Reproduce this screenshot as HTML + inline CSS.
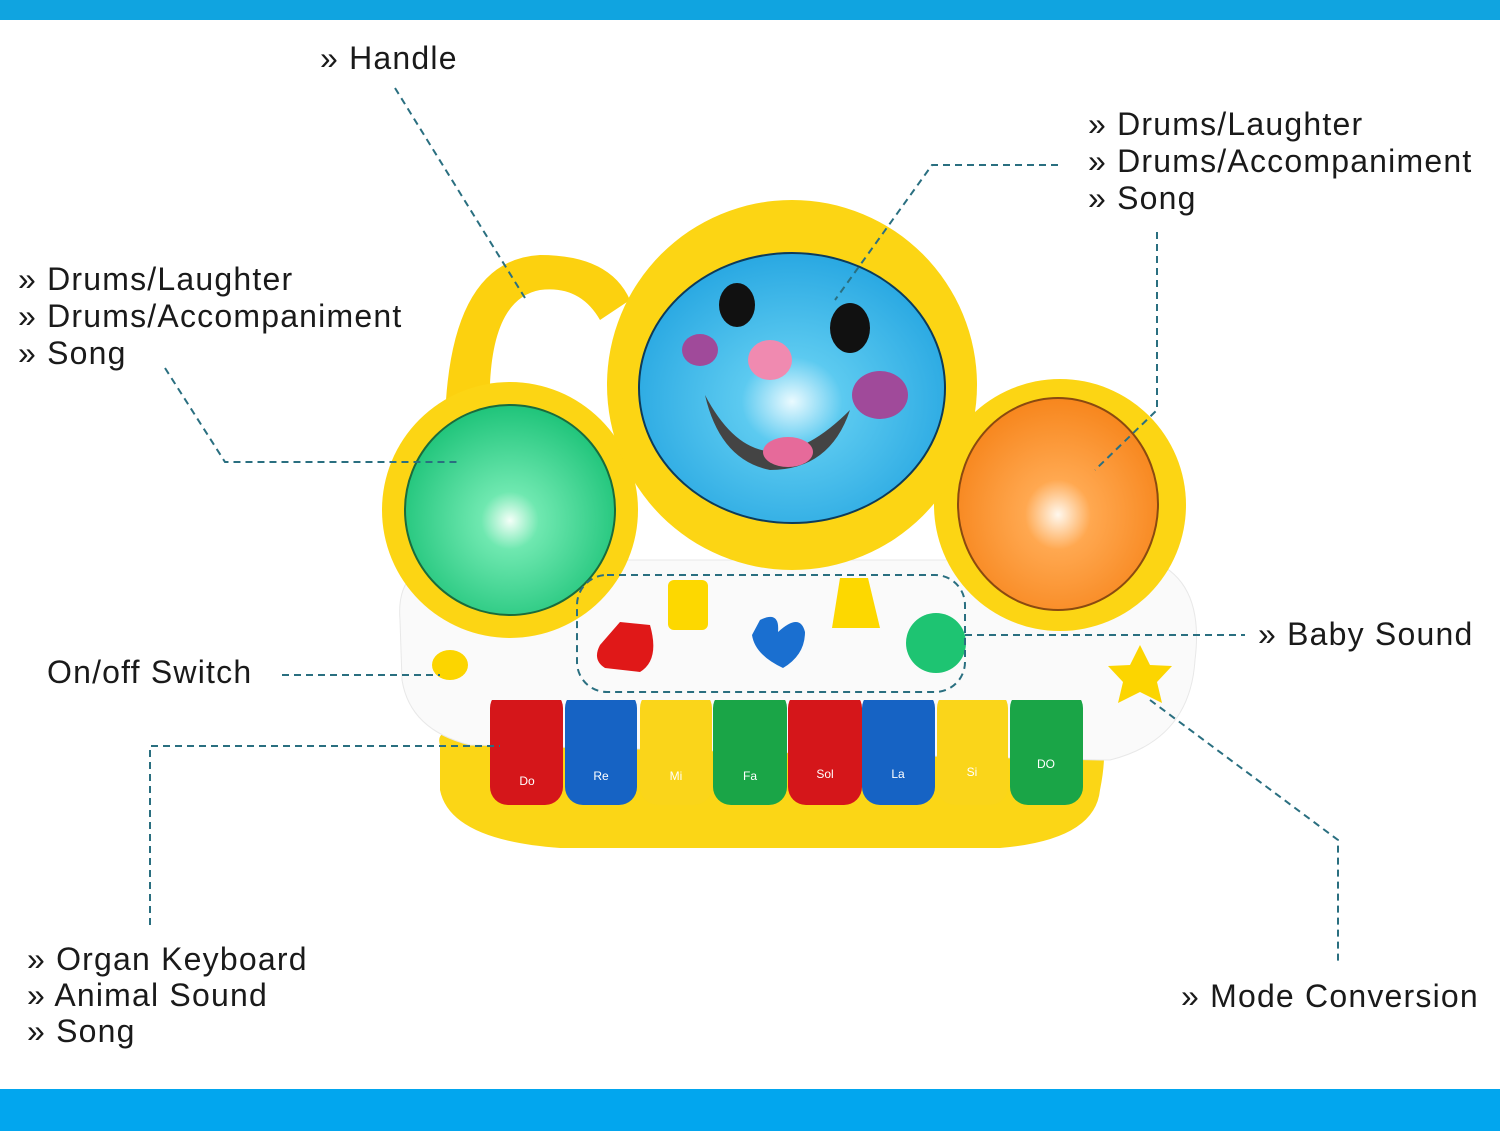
<!DOCTYPE html>
<html><head><meta charset="utf-8"><style>
html,body{margin:0;padding:0;background:#fff}
body{width:1500px;height:1131px;overflow:hidden;position:relative;font-family:"Liberation Sans",sans-serif}
.t{position:absolute;font-size:32px;color:#1a1a1a;line-height:37px;white-space:nowrap;letter-spacing:1.2px}
</style></head><body>
<svg width="1500" height="1131" style="position:absolute;left:0;top:0">
<defs>
<radialGradient id="gg" cx="0.5" cy="0.55" r="0.55"><stop offset="0" stop-color="#f4fff8"/><stop offset="0.25" stop-color="#6fe8b0"/><stop offset="1" stop-color="#1fc47a"/></radialGradient>
<radialGradient id="bg" cx="0.5" cy="0.55" r="0.55"><stop offset="0" stop-color="#eafaff"/><stop offset="0.3" stop-color="#5ccaf0"/><stop offset="1" stop-color="#29a8e2"/></radialGradient>
<radialGradient id="og" cx="0.5" cy="0.55" r="0.55"><stop offset="0" stop-color="#fff8ee"/><stop offset="0.3" stop-color="#ffa850"/><stop offset="1" stop-color="#f7861d"/></radialGradient>
</defs>
<rect x="0" y="0" width="1500" height="20" fill="#10a4e0"/>
<rect x="0" y="1089" width="1500" height="42" fill="#02a6ee"/>
<path d="M440,745 Q435,730 460,730 L1095,730 Q1110,740 1100,790 Q1095,840 1000,848 L560,848 Q450,840 440,790 Z" fill="#fbd616"/>
<path d="M400,620 Q395,560 460,560 L1150,560 Q1205,580 1195,660 Q1190,740 1110,760 L1100,760 L470,745 Q410,730 402,680 Z" fill="#fafafa" stroke="#e8e8e8"/>
<path d="M445,420 Q450,260 540,255 Q610,255 630,300 L600,320 Q580,285 540,290 Q485,300 490,420 Z" fill="#fcd10f"/>
<circle cx="510" cy="510" r="128" fill="#fcd514"/>
<circle cx="1060" cy="505" r="126" fill="#fcd514"/>
<ellipse cx="792" cy="385" rx="185" ry="185" fill="#fcd514"/>
<circle cx="510" cy="510" r="105" fill="url(#gg)" stroke="#1a6b3c" stroke-width="2"/>
<ellipse cx="1058" cy="504" rx="100" ry="106" fill="url(#og)" stroke="#8a4a10" stroke-width="2"/>
<ellipse cx="792" cy="388" rx="153" ry="135" fill="url(#bg)" stroke="#0d3b5a" stroke-width="2"/>
<ellipse cx="737" cy="305" rx="18" ry="22" fill="#111"/>
<ellipse cx="850" cy="328" rx="20" ry="25" fill="#111"/>
<ellipse cx="770" cy="360" rx="22" ry="20" fill="#f08ab0"/>
<ellipse cx="700" cy="350" rx="18" ry="16" fill="#a04a9a"/>
<ellipse cx="880" cy="395" rx="28" ry="24" fill="#a04a9a"/>
<path d="M705,395 Q760,500 850,410 Q830,470 770,470 Q720,460 705,395 Z" fill="#444"/>
<ellipse cx="788" cy="452" rx="25" ry="15" fill="#e66a9a"/>
<path d="M620,622 L650,625 Q660,660 640,672 L605,668 Q592,660 600,645 Z" fill="#e01818"/>
<rect x="668" y="580" width="40" height="50" rx="6" fill="#fdd800"/>
<path d="M760,620 Q780,610 778,632 Q800,612 805,632 Q805,655 783,668 Q755,655 752,635 Z" fill="#1a6fd0"/>
<path d="M840,578 L868,578 L880,628 L832,628 Z" fill="#fdd800"/>
<ellipse cx="936" cy="643" rx="30" ry="30" fill="#1ec472"/>
<ellipse cx="450" cy="665" rx="18" ry="15" fill="#fcd500"/>
<polygon points="1140,645 1150,665 1172,666 1157,682 1162,703 1140,692 1118,703 1123,682 1108,666 1130,665" fill="#fcd500"/>
<g>
<rect x="490" y="690" width="73" height="115" rx="18" fill="#d5161a"/>
<rect x="565" y="690" width="72" height="115" rx="18" fill="#1663c4"/>
<rect x="640" y="690" width="72" height="115" rx="18" fill="#fad51a"/>
<rect x="713" y="690" width="74" height="115" rx="18" fill="#1aa547"/>
<rect x="788" y="690" width="74" height="115" rx="18" fill="#d5161a"/>
<rect x="862" y="690" width="73" height="115" rx="18" fill="#1663c4"/>
<rect x="937" y="690" width="71" height="115" rx="18" fill="#fad51a"/>
<rect x="1010" y="690" width="73" height="115" rx="18" fill="#1aa547"/>
<rect x="485" y="680" width="605" height="20" fill="#fafafa"/>
</g>
<g font-family="Liberation Sans" font-size="12" fill="#fff" text-anchor="middle">
<text x="527" y="785">Do</text><text x="601" y="780">Re</text><text x="676" y="780">Mi</text><text x="750" y="780">Fa</text><text x="825" y="778">Sol</text><text x="898" y="778">La</text><text x="972" y="776">Si</text><text x="1046" y="768">DO</text>
</g>
<g fill="none" stroke="#2a6f80" stroke-width="2" stroke-dasharray="7,5">
<path d="M395,88 L525,298"/>
<path d="M1058,165 L932,165 L835,300"/>
<path d="M1157,232 L1157,410 L1095,470"/>
<path d="M165,368 L225,462 L460,462"/>
<path d="M282,675 L440,675"/>
<path d="M965,635 L1245,635"/>
<path d="M150,925 L150,746 L500,746"/>
<path d="M1150,700 L1338,840 L1338,962"/>
<rect x="577" y="575" width="388" height="117" rx="30"/>
</g>
</svg>
<div class="t" style="left:320px;top:40px">» Handle</div>
<div class="t" style="left:1088px;top:106px">» Drums/Laughter<br>» Drums/Accompaniment<br>» Song</div>
<div class="t" style="left:18px;top:261px">» Drums/Laughter<br>» Drums/Accompaniment<br>» Song</div>
<div class="t" style="left:47px;top:654px">On/off Switch</div>
<div class="t" style="left:1258px;top:616px">» Baby Sound</div>
<div class="t" style="left:27px;top:941px;line-height:36px">» Organ Keyboard<br>» Animal Sound<br>» Song</div>
<div class="t" style="left:1181px;top:978px">» Mode Conversion</div>
</body></html>
